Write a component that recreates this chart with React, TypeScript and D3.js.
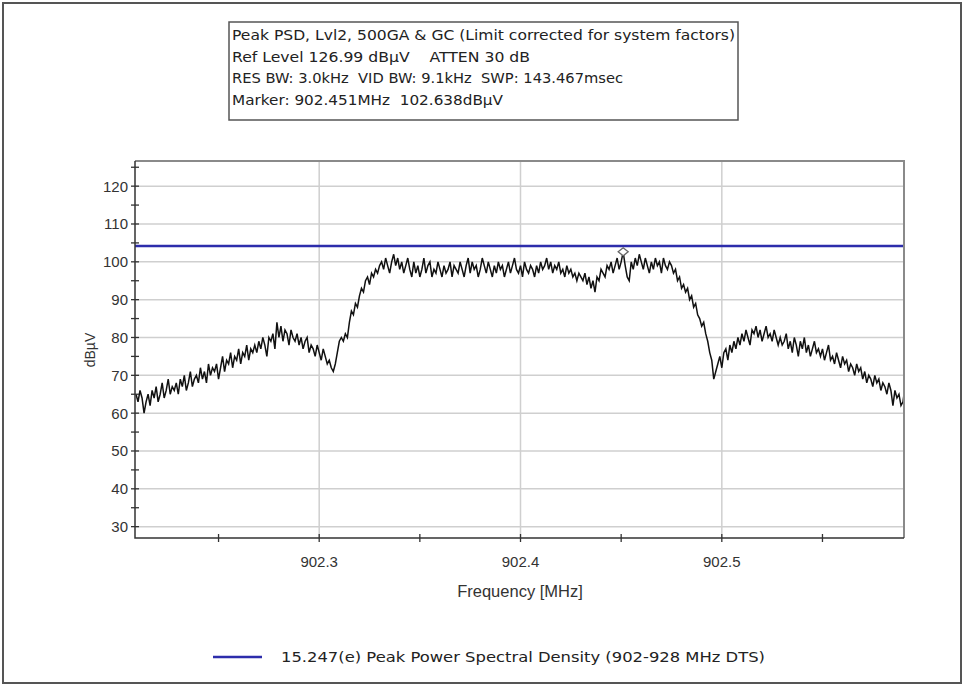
import React, { useEffect, useRef } from 'react';
import * as d3 from 'd3';

// sweep: evenly spaced points, levels
const freqStart = 902.209;
const freqStep = 0.001;
const levels = [
    65, 63, 66, 64, 60, 63, 65, 62, 66, 64, 67, 63, 65, 68, 64, 66, 69, 65, 67, 66,
    68, 65, 69, 67, 70, 66, 68, 71, 67, 69, 70, 68, 72, 69, 71, 68, 73, 70, 72, 71,
    73, 69, 72, 75, 71, 74, 73, 76, 72, 75, 74, 77, 73, 76, 75, 78, 74, 77, 76, 78,
    76, 79, 77, 80, 78, 75, 80, 79, 81, 77, 84, 80, 83, 79, 82, 81, 78, 82, 80, 79,
    81, 78, 80, 77, 79, 80, 76, 78, 77, 75, 78, 76, 74, 77, 75, 73, 74, 72, 71, 73,
    76, 79, 80, 79, 81, 80, 84, 87, 86, 89, 88, 91, 93, 92, 95, 96, 94, 97, 96, 98,
    97, 99, 100, 98, 101, 99, 97, 100, 102, 99, 101, 98, 100, 97, 99, 101, 98, 96, 100, 97,
    99, 96, 98, 101, 97, 99, 100, 96, 98, 97, 100, 98, 96, 99, 97, 98, 100, 96, 99, 98,
    97, 100, 98, 96, 99, 101, 97, 100, 98, 99, 96, 98, 101, 99, 97, 100, 98, 96, 99, 97,
    100, 98, 99, 96, 98, 100, 97, 99, 101, 98, 97, 99, 96, 100, 98, 97, 99, 98, 96, 99,
    97, 100, 98, 99, 101, 98, 100, 97, 99, 98, 100, 97, 98, 96, 99, 97, 98, 96, 97, 95,
    97, 96, 95, 97, 94, 96, 93, 95, 92, 96, 95, 98, 97, 96, 99, 98, 100, 97, 99, 101,
    98, 100, 102.6, 99, 96, 95, 100, 98, 101, 99, 102, 100, 98, 101, 99, 97, 100, 98, 101, 99,
    100, 97, 101, 99, 98, 100, 99, 97, 98, 95, 96, 93, 94, 92, 93, 90, 91, 88, 89, 86,
    85, 83, 84, 81, 79, 76, 74, 69, 71, 73, 75, 72, 76, 77, 74, 78, 76, 79, 77, 80,
    78, 81, 79, 82, 80, 78, 82, 81, 83, 80, 82, 79, 81, 83, 80, 81, 79, 82, 80, 78,
    80, 78, 79, 81, 77, 79, 76, 80, 78, 75, 79, 77, 80, 76, 78, 75, 77, 79, 76, 77,
    75, 77, 74, 76, 78, 74, 75, 73, 76, 74, 72, 75, 73, 74, 71, 73, 72, 70, 73, 71,
    72, 69, 71, 68, 70, 69, 67, 70, 68, 69, 66, 68, 67, 65, 68, 66, 62, 66, 64, 65,
    62, 63, 67,
];

const freqDomain = [902.2085, 902.5905];
const levelDomain = [27, 126.65];
const xMajorTicks = [902.3, 902.4, 902.5];
const xMinorTicks = [902.25, 902.3, 902.35, 902.4, 902.45, 902.5, 902.55];
const yMajorTicks = [30, 40, 50, 60, 70, 80, 90, 100, 110, 120];
const yMinorTicks = [30, 35, 40, 45, 50, 55, 60, 65, 70, 75, 80, 85, 90, 95, 100, 105, 110, 115, 120, 125];

const limitLevel = 104.2;
const markerFreq = 902.451;
const markerLevel = 102.638;

const headerLines = [
    'Peak PSD, Lvl2, 500GA & GC (Limit corrected for system factors)',
    'Ref Level 126.99 dBµV    ATTEN 30 dB',
    'RES BW: 3.0kHz  VID BW: 9.1kHz  SWP: 143.467msec',
    'Marker: 902.451MHz  102.638dBµV',
];
const headerWidths = [503, 298, 391, 271];
const legendLabel = '15.247(e) Peak Power Spectral Density (902-928 MHz DTS)';

const App: React.FC = () => {
    const svgRef = useRef<SVGSVGElement | null>(null);

    useEffect(() => {
        document.body.style.margin = '0';
        if (!svgRef.current) return;
        const svg = d3.select(svgRef.current);
        svg.selectAll('*').remove();

        const width = 965;
        const height = 688;
        const plot = { left: 135, top: 161, right: 904, bottom: 538 };

        svg.append('rect').attr('width', width).attr('height', height).attr('fill', '#fff');
        svg.append('rect')
            .attr('x', 3).attr('y', 3).attr('width', 958).attr('height', 680)
            .attr('fill', 'none').attr('stroke', '#555').attr('stroke-width', 2);

        // header box
        const hb = svg.append('g');
        hb.append('rect')
            .attr('x', 229).attr('y', 22).attr('width', 509).attr('height', 98)
            .attr('fill', '#fff').attr('stroke', '#555').attr('stroke-width', 1.5);
        headerLines.forEach((t, i) => {
            hb.append('text')
                .attr('x', 232).attr('y', 40 + i * 21.5)
                .attr('font-family', 'DejaVu Sans, sans-serif').attr('font-size', 13.5)
                .attr('fill', '#222')
                .style('white-space', 'pre')
                .attr('textLength', headerWidths[i]).attr('lengthAdjust', 'spacingAndGlyphs')
                .text(t);
        });

        const x = d3.scaleLinear().domain(freqDomain).range([plot.left, plot.right]);
        const y = d3.scaleLinear().domain(levelDomain).range([plot.bottom, plot.top]);

        // grid
        const grid = svg.append('g').attr('stroke', '#cfcfcf').attr('stroke-width', 1.5);
        yMajorTicks.forEach(v => {
            grid.append('line').attr('x1', plot.left).attr('x2', plot.right)
                .attr('y1', y(v)).attr('y2', y(v));
        });
        xMajorTicks.forEach(v => {
            grid.append('line').attr('x1', x(v)).attr('x2', x(v))
                .attr('y1', plot.top).attr('y2', plot.bottom);
        });

        // limit line
        svg.append('line')
            .attr('x1', plot.left).attr('x2', plot.right)
            .attr('y1', y(limitLevel)).attr('y2', y(limitLevel))
            .attr('stroke', '#2d2dab').attr('stroke-width', 2.5);

        // trace
        svg.append('clipPath').attr('id', 'plotClip')
            .append('rect').attr('x', plot.left).attr('y', plot.top)
            .attr('width', plot.right - plot.left).attr('height', plot.bottom - plot.top);
        const line = d3.line<number>()
            .x((d, i) => x(freqStart + i * freqStep))
            .y(d => y(d));
        svg.append('path')
            .attr('clip-path', 'url(#plotClip)')
            .attr('d', line(levels))
            .attr('fill', 'none').attr('stroke', '#111').attr('stroke-width', 1.5)
            .attr('stroke-linejoin', 'miter');

        // marker
        const mx = x(markerFreq);
        const my = y(markerLevel);
        svg.append('path')
            .attr('d', `M${mx - 5},${my} L${mx},${my - 4} L${mx + 5},${my} L${mx},${my + 4} Z`)
            .attr('fill', '#fff').attr('stroke', '#666').attr('stroke-width', 1.3);

        // frame
        svg.append('path')
            .attr('d', `M${plot.left},${plot.top} H${plot.right} V${plot.bottom}`)
            .attr('fill', 'none').attr('stroke', '#8a8a8a').attr('stroke-width', 2);
        svg.append('path')
            .attr('d', `M${plot.left},${plot.top} V${plot.bottom} H${plot.right}`)
            .attr('fill', 'none').attr('stroke', '#333').attr('stroke-width', 1.5);

        // ticks
        const ticks = svg.append('g').attr('stroke', '#333').attr('stroke-width', 1.3);
        yMinorTicks.forEach(v => {
            ticks.append('line').attr('x1', plot.left - 4).attr('x2', plot.left + 4)
                .attr('y1', y(v)).attr('y2', y(v));
        });
        xMinorTicks.forEach(v => {
            ticks.append('line').attr('x1', x(v)).attr('x2', x(v))
                .attr('y1', plot.bottom - 4).attr('y2', plot.bottom + 4);
        });

        const labelFont = 'Liberation Sans, Arial, sans-serif';
        yMajorTicks.forEach(v => {
            svg.append('text')
                .attr('x', plot.left - 7).attr('y', y(v) + 5.5)
                .attr('text-anchor', 'end')
                .attr('font-family', labelFont).attr('font-size', 15).attr('fill', '#333')
                .text(v);
        });
        xMajorTicks.forEach(v => {
            svg.append('text')
                .attr('x', x(v)).attr('y', 567)
                .attr('text-anchor', 'middle')
                .attr('font-family', labelFont).attr('font-size', 15).attr('fill', '#333')
                .text(d3.format('.1f')(v));
        });

        svg.append('text')
            .attr('x', 520).attr('y', 597)
            .attr('text-anchor', 'middle')
            .attr('font-family', labelFont).attr('font-size', 16.5).attr('fill', '#333')
            .text('Frequency [MHz]');
        svg.append('text')
            .attr('transform', 'translate(95,350) rotate(-90)')
            .attr('text-anchor', 'middle')
            .attr('font-family', labelFont).attr('font-size', 14).attr('fill', '#333')
            .text('dBµV');

        // legend
        svg.append('line')
            .attr('x1', 213).attr('x2', 262).attr('y1', 657).attr('y2', 657)
            .attr('stroke', '#2d2dab').attr('stroke-width', 2.5);
        svg.append('text')
            .attr('x', 281).attr('y', 662)
            .attr('font-family', 'DejaVu Sans, sans-serif').attr('font-size', 14).attr('fill', '#222')
            .attr('textLength', 484).attr('lengthAdjust', 'spacingAndGlyphs')
            .text(legendLabel);
    }, []);

    return <svg ref={svgRef} width={965} height={688} style={{ display: 'block' }}></svg>;
};

export default App;
